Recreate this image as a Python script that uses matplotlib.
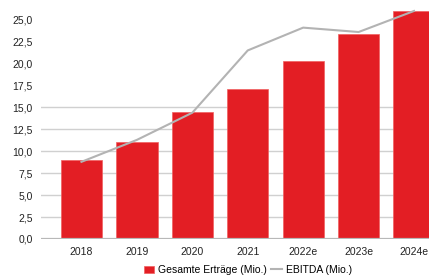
import matplotlib
matplotlib.use("Agg")
import matplotlib.pyplot as plt
import numpy as np

years = ["2018", "2019", "2020", "2021", "2022e", "2023e", "2024e"]
revenue = [9.0, 11.1, 14.5, 17.1, 20.3, 23.4, 26.0]
ebitda = [8.8, 11.3, 14.4, 21.5, 24.1, 23.6, 26.0]
yticks = [0, 2.5, 5, 7.5, 10, 12.5, 15, 17.5, 20, 22.5, 25]
grid_vals = [2.5, 5, 7.5, 10, 12.5, 15]

plt.rcParams['font.family'] = ['Liberation Sans', 'DejaVu Sans']

fig = plt.figure(figsize=(4.29, 2.78), dpi=100)
ax = fig.add_axes([41/429, 1-239/278, 1-41/429, 239/278])
x = np.arange(len(years))

for g in grid_vals:
    ax.axhline(g, color='#d0d0d0', lw=1.0, zorder=0)
ax.axhline(0, color='#b8b8b8', lw=1.6, zorder=3)

bars = ax.bar(x, revenue, width=0.745, color='#e31e24', edgecolor='#f06060', linewidth=0.5, zorder=2,
              label='Gesamte Erträge (Mio.)')
line, = ax.plot(x, ebitda, color='#b3b3b3', lw=1.5, zorder=4, label='EBITDA (Mio.)')

ax.set_xlim(-0.73, 6.27)
ax.set_ylim(0, 27.25)
ax.set_yticks(yticks)
ax.set_yticklabels([f"{v:.1f}".replace('.', ',') for v in yticks], fontsize=7.5, color='#222222')
ax.set_xticks(x)
ax.set_xticklabels(years, fontsize=7.5, color='#222222')
ax.tick_params(axis='both', length=0)
ax.tick_params(axis='y', pad=6)
ax.tick_params(axis='x', pad=6)
for s in ax.spines.values():
    s.set_visible(False)

fig.legend(handles=[bars, line], loc='center', bbox_to_anchor=(0.578, 1-270/278), ncol=2,
           frameon=False, fontsize=7.5, handlelength=1.0, handletextpad=0.4, columnspacing=0.4,
           handleheight=0.75)

fig.savefig("out.png", dpi=100)
